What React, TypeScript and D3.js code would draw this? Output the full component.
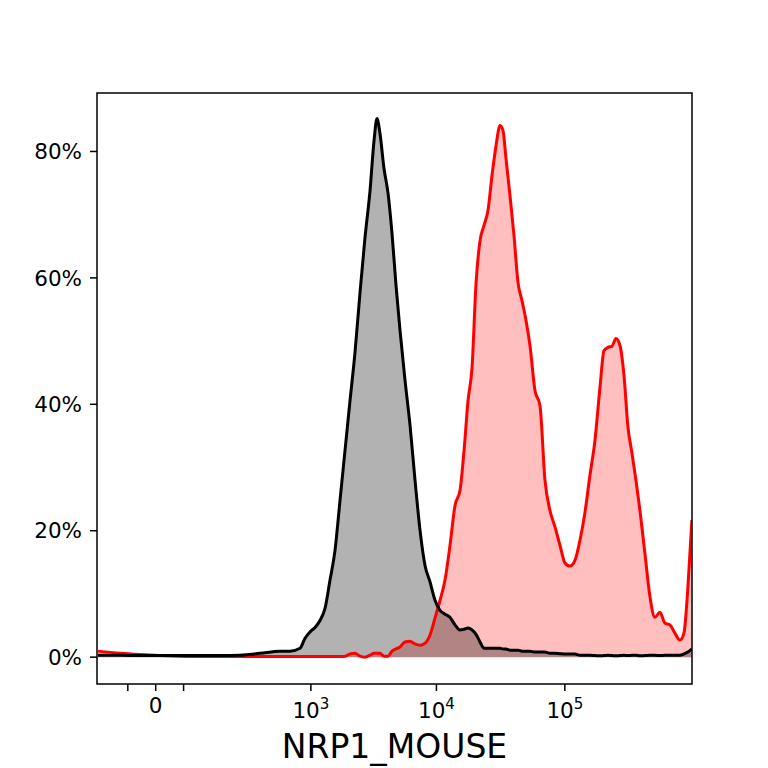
import * as d3 from "d3";
import { useEffect, useRef } from "react";

// fluorescence intensity of each histogram bin
const intensity = [
	-120, -59, -22, 5, 36, 80, 143, 234, 363, 548, 668, 812, 894, 984, 1082, 1189, 1306, 1435, 1575, 1729,
	1897, 2081, 2281, 2501, 2741, 3004, 3231, 3413, 3605, 3877, 4170, 4484, 4821, 5183, 5675, 6211, 6798,
	7440, 8143, 8911, 9750, 10670, 11670, 12770, 13970, 15290, 16430, 17650, 18960, 20370, 21890, 23510,
	25260, 27130, 29150, 31310, 33040, 34860, 37450, 40230, 43210, 46420, 49860, 53560, 58570, 64050,
	70050, 76610, 83790, 91630, 100200, 109600, 119800, 131100, 143300, 156700, 171400, 187500, 201400,
	216300, 232300, 249500, 268000, 287900, 309200, 332100, 356700, 383200, 418900, 458100, 500900,
	547700, 598900, 654900, 716100, 783100, 841200, 903600, 970600,
];

// control (black / grey)
const controlPct = [
	0.3, 0.3, 0.25, 0.25, 0.25, 0.25, 0.25, 0.3, 0.6, 0.95, 0.95, 1.4, 3.0, 4.0, 4.7, 5.8, 7.7, 12.2, 16.9, 24.8,
	32.7, 40.6, 48.2, 57.7, 66.4, 73.8, 81.7, 85.2, 82.8, 77.3, 73.4, 67.0, 58.8, 51.7, 43.8, 36.7, 28.0,
	20.1, 14.5, 11.9, 9.0, 7.4, 6.8, 6.3, 5.1, 4.3, 4.4, 4.6, 4.3, 3.6, 2.4, 1.4,
	1.4, 1.4, 1.4, 1.4, 1.3, 1.3, 1.1, 1.1, 1.1, 0.95, 0.95, 0.95, 0.8, 0.8,
	0.8, 0.6, 0.6, 0.55, 0.5, 0.5, 0.5, 0.3, 0.3, 0.3, 0.25, 0.2, 0.25,
	0.3, 0.25, 0.2, 0.25, 0.3, 0.25, 0.3, 0.3, 0.2, 0.25, 0.3, 0.3,
	0.25, 0.3, 0.3, 0.3, 0.3, 0.5, 0.8, 1.3,
];

// NRP1 stained (red / pink)
const nrp1Pct = [
	0.95, 0.6, 0.4, 0.25, 0.15, 0.1, 0.1, 0.1, 0.1, 0.1, 0.1, 0.1, 0.1, 0.1, 0.1, 0.1, 0.1, 0.1, 0.1, 0.1,
	0.15, 0.5, 0.6, 0.15, 0.0, 0.3, 0.6, 0.6, 0.6, 0.15, 0.15, 0.95, 1.3, 1.6, 2.4, 2.5, 2.1,
	1.9, 2.2, 3.5, 6.2, 9.0, 12.2, 17.7, 24.0, 26.4, 32.7, 40.6, 45.8, 59.1, 65.9, 68.3,
	70.7, 76.2, 80.9, 84.1, 83.3, 78.9, 73.0, 66.7, 59.3, 56.4, 53.3, 49.3, 42.2, 39.8,
	28.0, 23.2, 20.6, 17.7, 14.9, 14.4, 15.3, 18.5, 22.9, 28.8, 34.3, 42.7, 48.5,
	49.0, 49.2, 50.4, 49.3, 44.6, 36.4, 32.3, 28.0, 23.2, 16.4, 9.6, 6.3,
	7.1, 5.4, 5.1, 3.8, 2.7, 3.8, 11.1, 21.7,
];

const yTicks = [0, 20, 40, 60, 80];
const xMajorTicks = [0, 1e3, 1e4, 1e5];
const xMajorLabels = [
	["0", ""],
	["10", "3"],
	["10", "4"],
	["10", "5"],
];
const xMinorTicks = [-43, 43];
const xTitle = "NRP1_MOUSE";

const W = 768;
const H = 768;
const margin = { top: 93, right: 76, bottom: 84, left: 97 };
const FONT = "'DejaVu Sans', sans-serif";
const TICK = 7;
const TICK_FONT = 21.5;

export default function App() {
	const svgRef = useRef<SVGSVGElement>(null);

	useEffect(() => {
		if (!svgRef.current) return;
		const svg = d3.select(svgRef.current);
		svg.selectAll("*").remove();

		const x = d3
			.scaleSymlog()
			.constant(66.5)
			.domain([-123.5, 972000])
			.range([margin.left, W - margin.right]);
		const y = d3
			.scaleLinear()
			.domain([-4.25, 89.25])
			.range([H - margin.bottom, margin.top]);

		svg.append("defs")
			.append("clipPath")
			.attr("id", "plot-clip")
			.append("rect")
			.attr("x", margin.left)
			.attr("y", margin.top)
			.attr("width", W - margin.left - margin.right)
			.attr("height", H - margin.top - margin.bottom);

		const area = d3
			.area<number>()
			.x((_, i) => x(intensity[i]))
			.y0(y(0))
			.y1((d) => y(d))
			.curve(d3.curveMonotoneX);
		const line = d3
			.line<number>()
			.x((_, i) => x(intensity[i]))
			.y((d) => y(d))
			.curve(d3.curveMonotoneX);

		const plot = svg.append("g").attr("clip-path", "url(#plot-clip)");

		// fills
		plot.append("path").attr("d", area(nrp1Pct)).attr("fill", "#ff0000").attr("fill-opacity", 0.25);
		plot.append("path").attr("d", area(controlPct)).attr("fill", "#000").attr("fill-opacity", 0.3);

		// outlines
		plot.append("path")
			.attr("d", line(nrp1Pct))
			.attr("fill", "none")
			.attr("stroke", "#ff0000")
			.attr("stroke-width", 3)
			.attr("stroke-linejoin", "round");
		plot.append("path")
			.attr("d", line(controlPct))
			.attr("fill", "none")
			.attr("stroke", "#000")
			.attr("stroke-width", 3)
			.attr("stroke-linejoin", "round");

		// frame
		svg.append("rect")
			.attr("x", margin.left)
			.attr("y", margin.top)
			.attr("width", W - margin.left - margin.right)
			.attr("height", H - margin.top - margin.bottom)
			.attr("fill", "none")
			.attr("stroke", "#000")
			.attr("stroke-width", 1.5);

		// y axis
		const yAxis = svg.append("g");
		yAxis.selectAll("line")
			.data(yTicks)
			.enter()
			.append("line")
			.attr("x1", margin.left - TICK)
			.attr("x2", margin.left)
			.attr("y1", (d) => y(d))
			.attr("y2", (d) => y(d))
			.attr("stroke", "#000")
			.attr("stroke-width", 1.5);
		yAxis.selectAll("text")
			.data(yTicks)
			.enter()
			.append("text")
			.attr("x", margin.left - 15)
			.attr("y", (d) => y(d))
			.attr("dy", "0.36em")
			.attr("text-anchor", "end")
			.attr("font-family", FONT)
			.attr("font-size", TICK_FONT)
			.attr("fill", "#000")
			.text((d) => `${d}%`);

		// x axis
		const xBase = H - margin.bottom;
		const xAxis = svg.append("g");
		xAxis.selectAll("line")
			.data([...xMajorTicks, ...xMinorTicks])
			.enter()
			.append("line")
			.attr("x1", (d) => x(d))
			.attr("x2", (d) => x(d))
			.attr("y1", xBase)
			.attr("y2", xBase + TICK)
			.attr("stroke", "#000")
			.attr("stroke-width", 1.5);
		const labels = xAxis
			.selectAll("text")
			.data(xMajorTicks)
			.enter()
			.append("text")
			.attr("x", (d) => x(d))
			.attr("y", (_, i) => (xMajorLabels[i][1] ? xBase + 34 : xBase + 29))
			.attr("text-anchor", "middle")
			.attr("font-family", FONT)
			.attr("font-size", TICK_FONT)
			.attr("fill", "#000");
		labels.append("tspan").text((_, i) => xMajorLabels[i][0]);
		labels
			.filter((_, i) => xMajorLabels[i][1] !== "")
			.append("tspan")
			.attr("dy", -9.5)
			.attr("font-size", TICK_FONT * 0.7)
			.text((_, i, nodes) => {
				const d = d3.select(nodes[i].parentNode as Element).datum() as number;
				return xMajorLabels[xMajorTicks.indexOf(d)][1];
			});

		svg.append("text")
			.attr("x", (margin.left + W - margin.right) / 2)
			.attr("y", 758)
			.attr("text-anchor", "middle")
			.attr("font-family", FONT)
			.attr("font-size", 33)
			.attr("fill", "#000")
			.text(xTitle);
	}, []);

	return (
		<svg
			ref={svgRef}
			width={W}
			height={H}
			style={{ position: "absolute", left: 0, top: 0, background: "#fff" }}
		/>
	);
}
